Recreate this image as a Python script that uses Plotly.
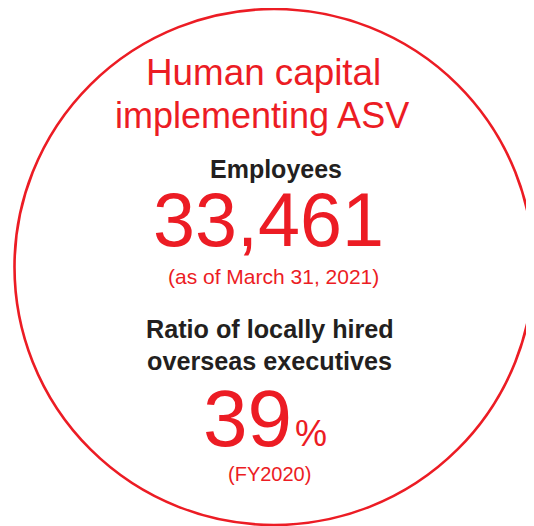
import plotly.graph_objects as go

# ---- content ----
title_lines = ["Human capital", "implementing ASV"]
metric_labels = [["Employees"], ["Ratio of locally hired", "overseas executives"]]
metric_values = ["33,461", "39"]
metric_units = ["", "%"]
metric_notes = ["(as of March 31, 2021)", "(FY2020)"]

RED = "#ec1c24"
DARK = "#231f20"
FONT = "Liberation Sans, Arial, Helvetica, sans-serif"

W, H = 534, 526
OFF = 8  # page body margin
fig = go.Figure()

# circle outline
cx, cy, rx, ry = 274, 267, 259.5, 258
fig.add_shape(type="circle", xref="x", yref="y",
              x0=cx - rx, x1=cx + rx, y0=cy - ry, y1=cy + ry,
              line=dict(color=RED, width=2.6), layer="below")

def ann(text, x, y, size, color, bold=False, xanchor="center"):
    fig.add_annotation(x=x, y=y, xref="x", yref="y", text=(f"<b>{text}</b>" if bold else text),
                       showarrow=False, xanchor=xanchor, yanchor="middle",
                       font=dict(family=FONT, size=size, color=color))

# title
ann(title_lines[0], 263.5, 72.5, 36.8, RED)
ann(title_lines[1], 261.5, 115.5, 36, RED)

# metric 1
ann(metric_labels[0][0], 276, 168.5, 25, DARK, bold=True)
ann(metric_values[0], 268.5, 220, 75.5, RED)
ann(metric_notes[0], 273, 276, 21, RED)

# metric 2
ann(metric_labels[1][0], 269.5, 329, 25.2, DARK, bold=True)
ann(metric_labels[1][1], 269.5, 361, 25.2, DARK, bold=True)
ann(metric_values[1], 294, 418.5, 80, RED, xanchor="right")
ann(metric_units[1], 293, 433, 36, RED, xanchor="left")
ann(metric_notes[1], 269, 474, 20, RED)

fig.update_xaxes(range=[OFF, W], visible=False, fixedrange=True)
fig.update_yaxes(range=[H, OFF], visible=False, fixedrange=True)
fig.update_layout(width=W - OFF, height=H - OFF, margin=dict(l=0, r=0, t=0, b=0),
                  paper_bgcolor="white", plot_bgcolor="white", showlegend=False)

fig.write_html("out.html", config={"displayModeBar": False})
